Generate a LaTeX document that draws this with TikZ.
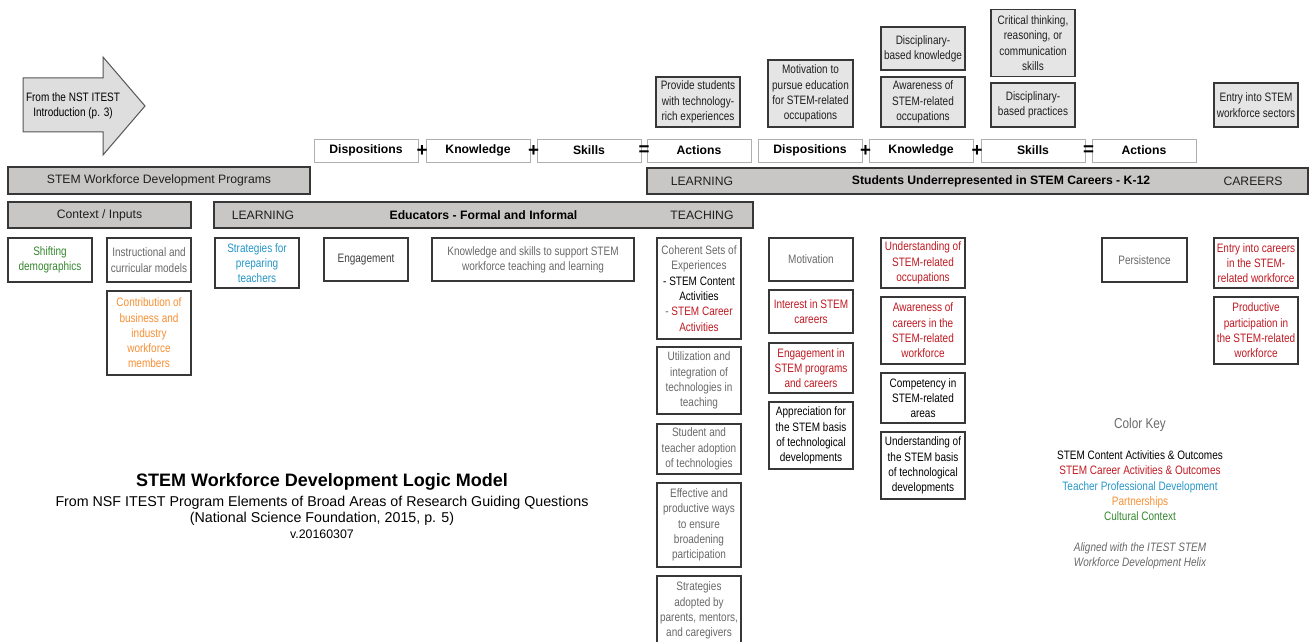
\documentclass[tikz,border=0pt]{standalone}
\usepackage{fontspec}
\setmainfont{Liberation Sans}
\newfontfamily\narrowsf{Liberation Sans}[FakeStretch=0.82]
\usepackage{xcolor}
\usepackage{tikz}
\usetikzlibrary{positioning}
\definecolor{bargray}{RGB}{201,198,198}
\definecolor{boxgray}{RGB}{229,229,229}
\definecolor{arrowgray}{RGB}{222,222,222}
\definecolor{edgegray}{RGB}{55,55,55}
\definecolor{eqedge}{RGB}{175,175,175}
\definecolor{txtgray}{RGB}{105,105,105}
\definecolor{careerred}{RGB}{192,26,34}
\definecolor{teachblue}{RGB}{38,150,199}
\definecolor{partorange}{RGB}{247,144,52}
\definecolor{cultgreen}{RGB}{52,135,45}
\newcommand{\boxfont}{\narrowsf\fontsize{9.76}{12.24}\selectfont}
\newcommand{\barfont}{\fontsize{9.76}{12}\selectfont}
\tikzset{wh/.style 2 args={minimum width=#1*0.8pt, minimum height=#2*0.8pt}, bar/.style={rectangle, draw=edgegray, line width=1pt, fill=bargray, inner sep=0pt, text=black!88, font=\barfont}, outbox/.style={rectangle, draw=edgegray, line width=1pt, fill=white, inner sep=0pt, align=center, font=\boxfont}, topbox/.style={outbox, fill=boxgray, text=black!88}, eqbox/.style={rectangle, draw=eqedge, line width=0.7pt, fill=white, inner sep=0pt, font=\barfont\bfseries}, eqsign/.style={font=\fontsize{15}{15}\selectfont\bfseries, inner sep=0pt}, keytext/.style={font=\boxfont, inner sep=0pt, text height=7.2pt, text depth=2.2pt}}

\begin{document}
\begin{tikzpicture}[x=0.8pt, y=-0.8pt]
\useasboundingbox (0,0) rectangle (1309,642);
% pointer arrow at top left
\draw[fill=arrowgray, draw=edgegray!85, line width=0.8pt] (23,78) -- (103,78) -- (103,57) -- (145,106) -- (103,155) -- (103,132) -- (23,132) -- cycle;
\node[font=\boxfont, align=center] (arrowtxt) at (73,105.5) {From the NST ITEST\\Introduction (p. 3)};
% shaded items above the equation row
\node[topbox, wh={84}{50}] (techexp) at (698,102) {Provide students\\with technology-\\rich experiences};
\node[topbox, wh={85}{67}] (motived) at (810.5,93.5) {Motivation to\\pursue education\\for STEM-related\\occupations};
\node[topbox, wh={84}{43}] (discknow) at (923,48.5) {Disciplinary-\\based knowledge};
\node[topbox, wh={84}{50}] (awareocc) at (923,102) {Awareness of\\STEM-related\\occupations};
\node[topbox, wh={84}{67}] (critical) at (1033,43) {Critical thinking,\\reasoning, or\\communication\\skills};
\node[topbox, wh={84}{44}] (discprac) at (1033,105) {Disciplinary-\\based practices};
\node[topbox, wh={84}{44}] (entrysec) at (1256,105) {Entry into STEM\\workforce sectors};
% dispositions + knowledge + skills = actions
\foreach \cx/\name [count=\k] in {366/Dispositions,478/Knowledge,589/Skills,699/Actions,810/Dispositions,921/Knowledge,1033/Skills,1144/Actions} {\node[eqbox, wh={104}{23}] (eq\k) at (\cx,150.5) {\name};}
\foreach \sx/\sg [count=\k] in {422/+,533.5/+,644/=,865.5/+,977/+,1088.5/=} {\node[eqsign] (sign\k) at (\sx,151) {\sg};}
% header bars
\node[bar, wh={302}{27}] (progbar) at (159,180.5) {STEM Workforce Development Programs};
\node[bar, wh={661}{26}] (stubar) at (977.5,181) {};
\node[font=\barfont, text=black!88] (learnR) at (702,181) {LEARNING};
\node[font=\barfont\bfseries] (stu) at (1001,181) {Students Underrepresented in STEM Careers - K-12};
\node[font=\barfont, text=black!88] (careers) at (1253,181) {CAREERS};
\node[bar, wh={183}{26}] (ctxbar) at (99.5,215) {Context / Inputs};
\node[bar, wh={539}{26}, font=\barfont\bfseries, text=black] (edubar) at (483.5,215) {Educators - Formal and Informal};
\node[font=\barfont, text=black!88] (learnL) at (263,215) {LEARNING};
\node[font=\barfont, text=black!88] (teaching) at (702,215) {TEACHING};
% context / inputs
\node[outbox, wh={84}{44}, text=cultgreen] (shift) at (50,260) {Shifting\\demographics};
\node[outbox, wh={84}{44}, text=txtgray] (instr) at (149,260) {Instructional and\\curricular models};
\node[outbox, wh={84}{84}, text=partorange] (contrib) at (149,333) {Contribution of\\business and\\industry\\workforce\\members};
% educators
\node[outbox, wh={84}{50}, text=teachblue] (prepteach) at (257,263) {Strategies for\\preparing\\teachers};
\node[outbox, wh={84}{43}, text=black!75] (engage) at (366,259.5) {Engagement};
\node[outbox, wh={202}{43}, text=txtgray] (knowskill) at (533,259.5) {Knowledge and skills to support STEM\\workforce teaching and learning};
\node[outbox, wh={84}{101}] (coherent) at (699,288.5) {\textcolor{txtgray}{Coherent Sets of}\\\textcolor{txtgray}{Experiences}\\- STEM Content\\Activities\\\textcolor{txtgray}{-} \textcolor{careerred}{STEM Career}\\\textcolor{careerred}{Activities}};
\node[outbox, wh={84}{67}, text=txtgray] (utiltech) at (699,380.5) {Utilization and\\integration of\\technologies in\\teaching};
\node[outbox, wh={84}{50}, text=txtgray] (adopt) at (699,449) {Student and\\teacher adoption\\of technologies};
\node[outbox, wh={84}{84}, text=txtgray] (broaden) at (699,525) {Effective and\\productive ways\\to ensure\\broadening\\participation};
\node[outbox, wh={84}{69}, text=txtgray] (parents) at (699,610.5) {Strategies\\adopted by\\parents, mentors,\\and caregivers};
% student outcomes
\node[outbox, wh={84}{43}, text=txtgray] (motiv) at (811,259.5) {Motivation};
\node[outbox, wh={84}{43}, text=careerred] (interest) at (811,311.5) {Interest in STEM\\careers};
\node[outbox, wh={84}{50}, text=careerred] (engstem) at (811,368) {Engagement in\\STEM programs\\and careers};
\node[outbox, wh={84}{67}] (apprec) at (811,435.5) {Appreciation for\\the STEM basis\\of technological\\developments};
\node[outbox, wh={84}{50}, text=careerred] (undocc) at (923,263) {Understanding of\\STEM-related\\occupations};
\node[outbox, wh={84}{67}, text=careerred] (awarecar) at (923,330.5) {Awareness of\\careers in the\\STEM-related\\workforce};
\node[outbox, wh={84}{50}] (compet) at (923,398) {Competency in\\STEM-related\\areas};
\node[outbox, wh={84}{67}] (undbasis) at (923,465.5) {Understanding of\\the STEM basis\\of technological\\developments};
\node[outbox, wh={85}{44}, text=txtgray] (persist) at (1144.5,260) {Persistence};
\node[outbox, wh={84}{50}, text=careerred] (entcar) at (1256,263) {Entry into careers\\in the STEM-\\related workforce};
\node[outbox, wh={84}{67}, text=careerred] (prodpart) at (1256,330.5) {Productive\\participation in\\the STEM-related\\workforce};
% title block
\node[font=\fontsize{14.4}{16}\selectfont\bfseries] (title) at (322,482) {STEM Workforce Development Logic Model};
\node[font=\fontsize{11.4}{12.8}\selectfont, align=center] (subtitle) at (322,511) {From NSF ITEST Program Elements of Broad Areas of Research Guiding Questions\\(National Science Foundation, 2015, p. 5)};
\node[font=\fontsize{9.9}{12}\selectfont] (version) at (322,534.5) {v.20160307};
% colour key
\node[font=\narrowsf\fontsize{11.5}{13}\selectfont, text=txtgray] (keytitle) at (1140,425) {Color Key};
\foreach \i/\col/\txt in {0/black/{STEM Content Activities \& Outcomes},1/careerred/{STEM Career Activities \& Outcomes},2/teachblue/{Teacher Professional Development},3/partorange/{Partnerships},4/cultgreen/{Cultural Context}} {\node[keytext, text=\col] (key\i) at (1140,456.5+\i*15.25) {\txt};}
\node[font=\boxfont\itshape, text=txtgray, align=center, inner sep=0pt] (helix) at (1140,555.5) {Aligned with the ITEST STEM\\Workforce Development Helix};
\end{tikzpicture}
\end{document}
